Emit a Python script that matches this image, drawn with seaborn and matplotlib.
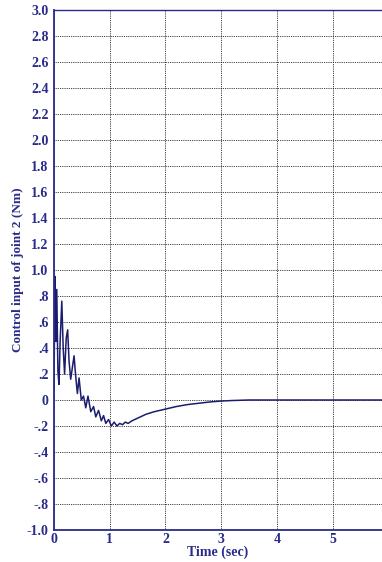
import matplotlib
matplotlib.use("Agg")
import matplotlib.pyplot as plt
import seaborn as sns
import pandas as pd

time_s = [0.00, 0.01, 0.02, 0.035, 0.05, 0.07, 0.09, 0.11, 0.14, 0.165, 0.19, 0.22, 0.245,
          0.27, 0.30, 0.33, 0.36, 0.39, 0.42, 0.45, 0.49, 0.53, 0.57, 0.61, 0.66, 0.71,
          0.75, 0.80, 0.85, 0.89, 0.93, 0.98, 1.03, 1.08, 1.13, 1.18, 1.23, 1.28, 1.33,
          1.40, 1.50, 1.65, 1.80, 2.00, 2.20, 2.40, 2.60, 2.80, 3.00, 3.20, 3.50, 4.00,
          5.00, 6.00]
torque = [0.08, 0.60, 0.95, 0.45, 0.85, 0.22, 0.12, 0.45, 0.76, 0.40, 0.20, 0.48, 0.54,
          0.30, 0.16, 0.25, 0.34, 0.18, 0.05, 0.17, 0.00, 0.03, -0.06, 0.03, -0.09, -0.05,
          -0.13, -0.08, -0.16, -0.12, -0.18, -0.15, -0.20, -0.17, -0.20, -0.18, -0.19, -0.17,
          -0.18, -0.16, -0.14, -0.11, -0.09, -0.07, -0.05, -0.035, -0.025, -0.015, -0.008,
          -0.004, 0.0, 0.0, 0.0, 0.0]

x_ticks = [0, 1, 2, 3, 4, 5]
y_ticks = [3.0, 2.8, 2.6, 2.4, 2.2, 2.0, 1.8, 1.6, 1.4, 1.2, 1.0, 0.8, 0.6, 0.4, 0.2,
           0.0, -0.2, -0.4, -0.6, -0.8, -1.0]
y_tick_labels = ["3.0", "2.8", "2.6", "2.4", "2.2", "2.0", "1.8", "1.6", "1.4", "1.2",
                 "1.0", ".8", ".6", ".4", ".2", "0", "-.2", "-.4", "-.6", "-.8", "-1.0"]

df = pd.DataFrame({"t": time_s, "u": torque})

sns.set_theme(style="white")
plt.rcParams["font.family"] = ["Liberation Serif", "DejaVu Serif"]

navy = "#2a2a8a"
fig = plt.figure(figsize=(3.82, 5.62), dpi=100)
ax = fig.add_axes([54 / 382, 32 / 562, 1 - 54 / 382, (530 - 10) / 562])

sns.lineplot(data=df, x="t", y="u", ax=ax, color="#1c1c6e", linewidth=1.1)

ax.set_xlim(0, (382 - 54) / 55.7)
ax.set_ylim(-1.0, 3.0)
ax.set_xticks(x_ticks)
ax.set_xticklabels([str(v) for v in x_ticks])
ax.set_yticks(y_ticks)
ax.set_yticklabels(y_tick_labels)
ax.grid(True, color="black", linestyle=(0, (1, 1.2)), linewidth=0.6)

for lab in ax.get_xticklabels() + ax.get_yticklabels():
    lab.set_fontweight("bold")
    lab.set_color(navy)
    lab.set_fontsize(10)
ax.tick_params(axis="y", length=0, pad=4)
ax.tick_params(axis="x", length=0, pad=2)

ax.set_xlabel("Time (sec)", fontsize=10, fontweight="bold", color=navy, labelpad=0)
ax.set_ylabel("Control input of joint 2 (Nm)", fontsize=9.5, fontweight="bold", color=navy, labelpad=1.5)

for side in ["left", "bottom", "top"]:
    ax.spines[side].set_color(navy)
    ax.spines[side].set_linewidth(1.3)
ax.spines["top"].set_linewidth(1.0)
ax.spines["right"].set_visible(False)

fig.savefig("out.png", dpi=100)
